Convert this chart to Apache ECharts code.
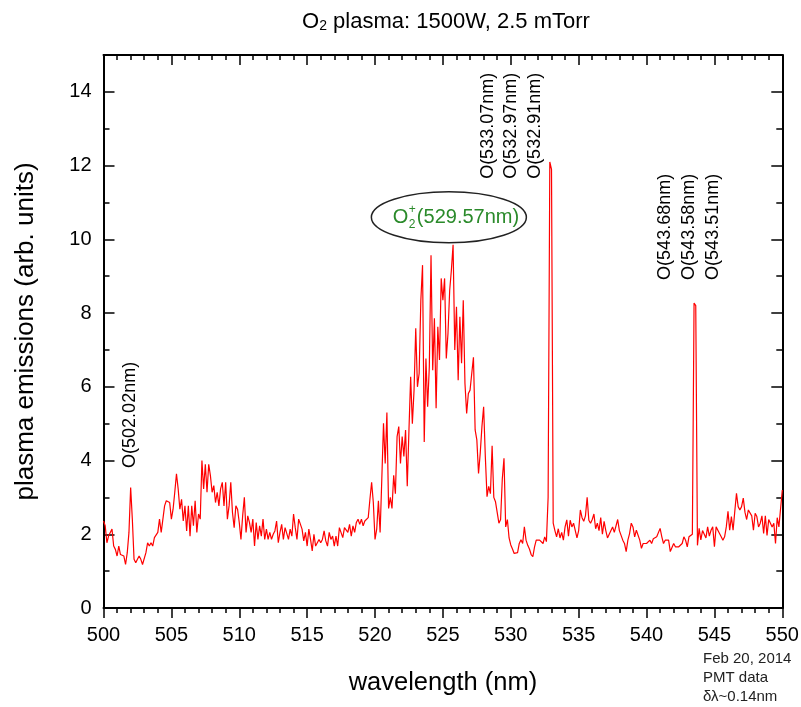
<!DOCTYPE html>
<html><head><meta charset="utf-8">
<script src="https://cdn.jsdelivr.net/npm/echarts@6/dist/echarts.min.js"></script>
<style>html,body{margin:0;padding:0;background:#fff}#c{width:801px;height:707px}</style>
</head><body><div id="c"></div>
<script>
// ---- data ----
const wavelengthStart = 500;     // nm, first sample
const wavelengthStep = 0.125;    // nm between samples
const emission = [
2.36,2.23,1.77,1.95,1.95,2.14,1.68,1.59,1.41,1.68,
1.45,1.45,1.41,1.18,1.5,2.05,3.27,2.4,1.32,1.23,
1.32,1.41,1.32,1.18,1.23,1.5,1.77,1.68,1.77,1.68,
1.91,1.86,2.05,2.41,2.05,2.41,2.77,2.91,2.91,2.86,
2.41,2.68,3.14,3.64,3.23,2.68,2.95,2.36,2.77,2.09,
2.77,1.95,2.77,2.23,2.91,2.05,2.55,2.41,4.0,3.23,
3.9,3.14,3.9,3.59,3.14,3.32,2.86,3.14,2.77,3.23,
3.41,2.77,3.41,2.41,2.77,3.41,2.59,2.18,2.77,2.68,
2.32,1.86,2.5,3.0,2.05,2.5,2.32,2.05,2.41,1.68,
2.32,1.86,2.23,1.95,2.41,1.86,2.14,1.86,2.05,1.86,
2.0,2.09,2.36,1.77,2.05,
2.27,1.86,2.18,2.23,1.86,2.14,1.95,2.55,2.18,1.86,
2.41,2.43,2.14,1.82,2.05,1.68,2.14,1.86,1.55,2.0,
1.68,1.64,1.86,1.77,1.86,2.09,1.82,1.68,2.05,1.86,
1.95,1.68,1.95,1.68,2.18,2.14,1.91,2.18,2.23,2.05,
2.27,1.95,2.23,2.05,2.32,2.41,2.27,2.41,2.23,2.36,
2.32,2.45,2.95,3.41,2.86,1.86,2.14,2.91,2.05,3.5,
5.01,3.92,5.30,2.7,3.0,2.7,3.6,3.1,4.65,4.92,
3.92,4.65,4.11,4.83,3.3,4.83,6.27,5.0,5.91,7.59,
6.0,6.36,8.35,9.3,4.5,6.77,5.46,6.55,9.57,6.45,
7.86,5.42,7.63,6.73,8.94,8.35,8.94,6.77,7.45,8.62,
9.17,9.85,7.0,8.17,6.18,7.9,6.64,
8.35,6.09,5.28,5.82,5.91,6.36,6.8,4.83,4.56,3.65,4.2,4.92,5.46,4.11,3.02,3.3,
3.1,4.4,3.0,2.88,2.88,2.3,2.4,3.5,4.06,2.2,
2.4,1.9,1.71,1.6,1.48,1.44,1.5,1.75,1.85,1.75,
2.2,1.84,1.7,1.6,1.45,1.39,1.66,1.84,1.8,1.84,
1.84,1.75,1.93,1.8,3.0,
12.1,11.9,
2.3,2.1,1.93,2.15,1.9,2.05,1.84,2.2,2.39,1.95,
2.38,2.2,2.3,2.35,1.9,2.1,2.66,2.45,2.35,2.5,
3.0,2.38,2.3,2.4,2.55,2.15,2.3,2.1,2.45,2.0,
2.35,2.1,1.9,2.0,1.95,2.2,2.05,2.1,2.4,
2.1,2.11,1.84,1.75,1.53,1.84,2.02,2.3,2.2,1.93,
2.11,2.07,1.84,1.62,1.75,1.75,1.75,1.8,1.84,1.75,
1.88,1.84,1.93,1.97,2.16,1.93,1.75,1.84,1.88,1.84,
1.53,1.57,1.75,1.66,1.66,1.66,1.62,1.75,1.93,1.84,
1.66,1.93,1.93,2.0,
8.27,8.2,
1.7,2.16,1.85,2.1,2.11,1.9,2.2,1.95,2.11,2.2,
1.66,2.2,2.16,2.02,1.93,1.84,1.93,2.2,2.62,2.11,
2.48,2.11,2.62,3.11,2.75,2.66,2.75,2.98,2.6,2.4,
2.66,2.66,2.5,2.11,2.57,2.48,2.2,2.3,2.5,2.02,
2.5,1.97,2.4,2.45,2.2,2.3,1.75,2.45,2.2,2.2,3.2
];
const xTickLabels = [500,505,510,515,520,525,530,535,540,545,550];
const yTickLabels = [0,2,4,6,8,10,12,14];
const yMax = 15;

// line annotations (text, wavelength, value at the lower end of the text)
const lineLabels = ['O(502.02nm)','O(533.07nm)','O(532.97nm)','O(532.91nm)','O(543.68nm)','O(543.58nm)','O(543.51nm)'];
const lineLabelWl = [501.95, 528.31, 530.01, 531.78, 541.35, 543.12, 544.88];
const lineLabelVal = [3.80, 11.64, 11.64, 11.64, 8.90, 8.90, 8.90];
const bandLabelAt = [525.44, 10.6];
const notes = ['Feb 20, 2014', 'PMT data', 'δλ~0.14nm'];

// ---- chart ----
const FONT = '"Liberation Sans", Arial, Helvetica, sans-serif';
const seriesData = emission.map((v, i) => [wavelengthStart + wavelengthStep * i, v]);
const xMin = xTickLabels[0], xMax = xTickLabels[xTickLabels.length - 1];
const xInt = xTickLabels[1] - xTickLabels[0];
const yInt = yTickLabels[1] - yTickLabels[0];
const lineW = {color: '#000', width: 2};
const tickW = {color: '#000', width: 1.5};

const chart = echarts.init(document.getElementById('c'));
const option = {
  animation: false,
  backgroundColor: '#fff',
  textStyle: {fontFamily: FONT},
  title: {
    text: '{a|O}{b|2}{a| plasma: 1500W, 2.5 mTorr}',
    left: 441, top: 6, textAlign: 'center',
    textStyle: {fontWeight: 'normal', rich: {
      a: {fontSize: 22, color: '#000', fontFamily: FONT, fontWeight: 'normal'},
      b: {fontSize: 14, color: '#000', fontFamily: FONT, fontWeight: 'normal', verticalAlign: 'bottom'}
    }}
  },
  grid: {left: 103.5, right: 18.7, top: 55, bottom: 99, containLabel: false, outerBoundsMode: 'none'},
  xAxis: [
    {type: 'value', min: xMin, max: xMax, interval: xInt, position: 'bottom',
     axisLine: {onZero: false, lineStyle: lineW},
     axisTick: {inside: false, length: 10, lineStyle: tickW},
     minorTick: {show: true, splitNumber: 5, length: 5, lineStyle: tickW},
     splitLine: {show: false}, minorSplitLine: {show: false},
     axisLabel: {fontSize: 20, color: '#000', margin: 17, fontFamily: FONT},
     name: 'wavelength (nm)', nameLocation: 'middle', nameGap: 62,
     nameTextStyle: {fontSize: 25.5, color: '#000', fontFamily: FONT}},
    {type: 'value', min: xMin, max: xMax, interval: xInt, position: 'top',
     axisLine: {onZero: false, lineStyle: lineW},
     axisTick: {inside: true, length: 10, lineStyle: tickW},
     minorTick: {show: true, splitNumber: 5, length: 5, lineStyle: tickW},
     splitLine: {show: false}, axisLabel: {show: false}}
  ],
  yAxis: [
    {type: 'value', min: 0, max: yMax, interval: yInt, position: 'left',
     axisLine: {onZero: false, lineStyle: lineW},
     axisTick: {inside: true, length: 11, lineStyle: tickW},
     splitLine: {show: false},
     axisLabel: {fontSize: 20, color: '#000', margin: 12, fontFamily: FONT, showMaxLabel: false},
     name: 'plasma emissions (arb. units)', nameLocation: 'middle', nameGap: 65,
     nameTextStyle: {fontSize: 26, color: '#000', fontFamily: FONT}},
    {type: 'value', min: 0, max: yMax, interval: 1, position: 'left',
     axisLine: {show: false}, axisTick: {inside: true, length: 6, lineStyle: tickW},
     splitLine: {show: false}, axisLabel: {show: false}},
    {type: 'value', min: 0, max: yMax, interval: yInt, position: 'right',
     axisLine: {onZero: false, lineStyle: lineW},
     axisTick: {inside: true, length: 11, lineStyle: tickW},
     splitLine: {show: false}, axisLabel: {show: false}},
    {type: 'value', min: 0, max: yMax, interval: 1, position: 'right',
     axisLine: {show: false}, axisTick: {inside: true, length: 6, lineStyle: tickW},
     splitLine: {show: false}, axisLabel: {show: false}}
  ],
  series: [{
    type: 'line', xAxisIndex: 0, yAxisIndex: 0, data: seriesData,
    showSymbol: false, symbol: 'none', clip: true,
    lineStyle: {color: '#ff0000', width: 1.2}
  }]
};
chart.setOption(option);

const px = (x, y) => chart.convertToPixel({seriesIndex: 0}, [x, y]);
const graphics = [];
lineLabels.forEach((t, i) => {
  const p = px(lineLabelWl[i], lineLabelVal[i]);
  graphics.push({type: 'text', x: p[0], y: p[1], rotation: Math.PI / 2, z: 10,
    style: {text: t, fontSize: 18, fontFamily: FONT, fill: '#000', textAlign: 'left', textVerticalAlign: 'middle'}});
});
const c = px(bandLabelAt[0], bandLabelAt[1]);
graphics.push({type: 'ellipse', shape: {cx: c[0], cy: c[1], rx: 77.5, ry: 25.5}, z: 9,
  style: {fill: 'none', stroke: '#222', lineWidth: 1.5}});
const green = '#2a8a2a';
graphics.push({type: 'text', x: c[0] - 56, y: c[1], z: 10,
  style: {text: 'O', fontSize: 20, fontFamily: FONT, fill: green, textAlign: 'left', textVerticalAlign: 'middle'}});
graphics.push({type: 'text', x: c[0] - 40, y: c[1] - 8, z: 10,
  style: {text: '+', fontSize: 12, fontFamily: FONT, fill: green, textAlign: 'left', textVerticalAlign: 'middle'}});
graphics.push({type: 'text', x: c[0] - 40, y: c[1] + 7, z: 10,
  style: {text: '2', fontSize: 12, fontFamily: FONT, fill: green, textAlign: 'left', textVerticalAlign: 'middle'}});
graphics.push({type: 'text', x: c[0] - 32, y: c[1], z: 10,
  style: {text: '(529.57nm)', fontSize: 20, fontFamily: FONT, fill: green, textAlign: 'left', textVerticalAlign: 'middle'}});
notes.forEach((t, i) => {
  graphics.push({type: 'text', x: 703, y: 659 + i * 19, z: 10,
    style: {text: t, fontSize: 15, fontFamily: FONT, fill: '#222', textAlign: 'left', textVerticalAlign: 'middle'}});
});
chart.setOption({graphic: graphics});
</script>
</body></html>
